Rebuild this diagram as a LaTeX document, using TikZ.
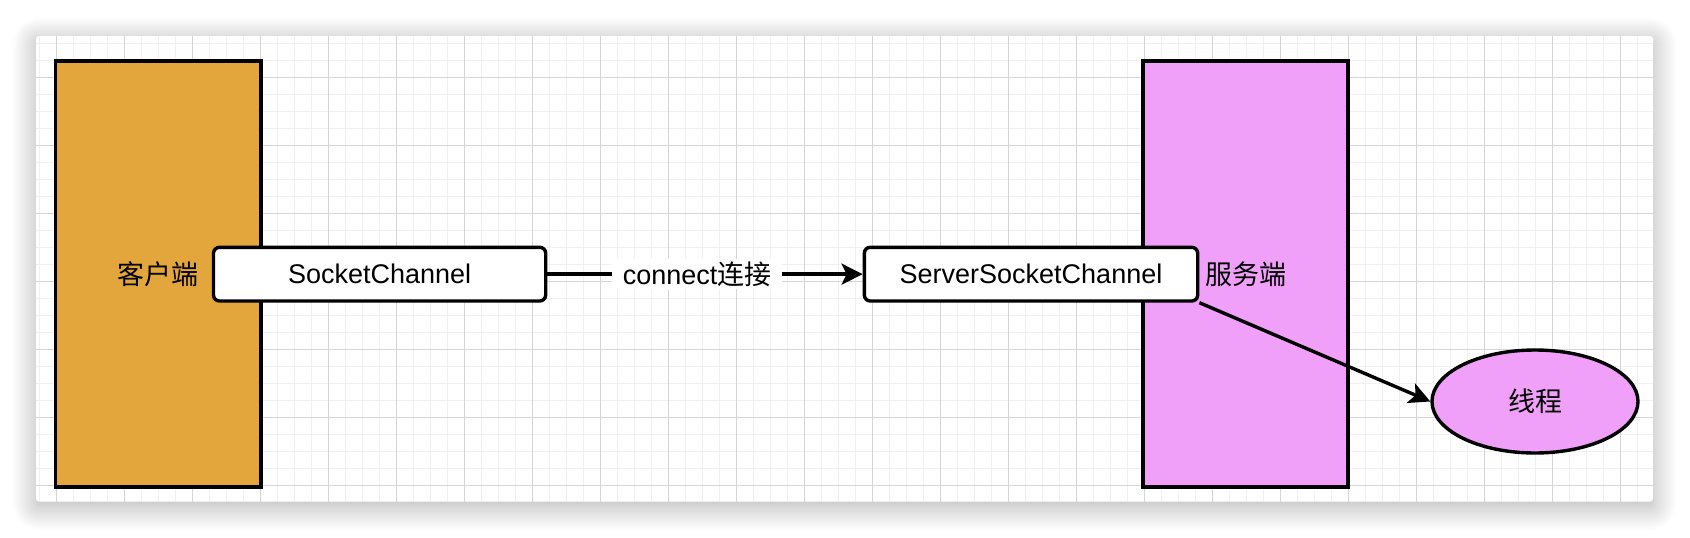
\documentclass[tikz,border=0pt]{standalone}
\usepackage{fontspec}
\setmainfont{Liberation Sans}
\newfontfamily\cjk{Noto Sans CJK SC}
\usetikzlibrary{arrows.meta,shapes.geometric,shadows.blur}
\definecolor{clientfill}{HTML}{E3A63C}
\definecolor{serverfill}{HTML}{F0A0F8}
\definecolor{gridminor}{HTML}{F0F0F0}
\definecolor{gridmajor}{HTML}{D5D5D5}
\tikzset{
  bigrect/.style={draw=black, line width=3.4pt, rectangle, inner sep=0pt, font=\cjk\fontsize{27}{32}\selectfont},
  chanbox/.style={draw=black, fill=white, line width=3.4pt, rounded corners=6pt, rectangle, inner sep=0pt, minimum height=53.7pt, font=\fontsize{27}{32}\selectfont},
  threadnode/.style={draw=black, fill=serverfill, line width=3.4pt, ellipse, inner sep=0pt, minimum width=206pt, minimum height=103pt, font=\cjk\fontsize{27}{32}\selectfont},
  conn/.style={draw=black, line width=3.4pt, -{Stealth[length=21pt,width=21pt,inset=5pt]}},
  edgelabel/.style={fill=white, inner sep=0pt, inner xsep=11pt, minimum height=30pt, font=\fontsize{27}{32}\selectfont}
}
\begin{document}
\begin{tikzpicture}[x=1pt,y=-1pt]
\useasboundingbox (0,0) rectangle (1690,538);
% canvas panel with shadow
\fill[white, rounded corners=3pt, blur shadow={shadow xshift=0pt, shadow yshift=-5pt, shadow blur radius=24pt, shadow blur steps=30, shadow opacity=32}] (36,36) rectangle (1653,501.5);
\begin{scope}
  \clip (36,36) rectangle (1653,501.5);
  \foreach \gx in {39,56,...,1653} \draw[gridminor, line width=1pt] (\gx,36) -- (\gx,502);
  \foreach \gy in {43.3,60.3,...,502} \draw[gridminor, line width=1pt] (36,\gy) -- (1653,\gy);
  \foreach \gx in {56,124,...,1653} \draw[gridmajor, line width=1pt] (\gx,36) -- (\gx,502);
  \foreach \gy in {9.3,77.3,...,502} \draw[gridmajor, line width=1pt] (36,\gy) -- (1653,\gy);
\end{scope}
% big rectangles
\node[bigrect, fill=clientfill, minimum width=205.5pt, minimum height=426pt] (client) at (158.25,274) {客户端};
\node[bigrect, fill=serverfill, minimum width=205pt, minimum height=426pt] (server) at (1245.5,274) {服务端};
% channel boxes
\node[chanbox, minimum width=332.2pt] (sc) at (379.6,274.15) {SocketChannel};
\node[chanbox, minimum width=333.4pt] (ssc) at (1031,274.15) {ServerSocketChannel};
% thread ellipse
\node[threadnode] (thread) at (1535,401.5) {线程};
% connectors
\draw[conn] (sc.east) -- node[edgelabel, pos=0.475] {connect{\cjk 连接}} (ssc.west);
\draw[conn] (ssc.south east) -- (thread.west);
\end{tikzpicture}
\end{document}
